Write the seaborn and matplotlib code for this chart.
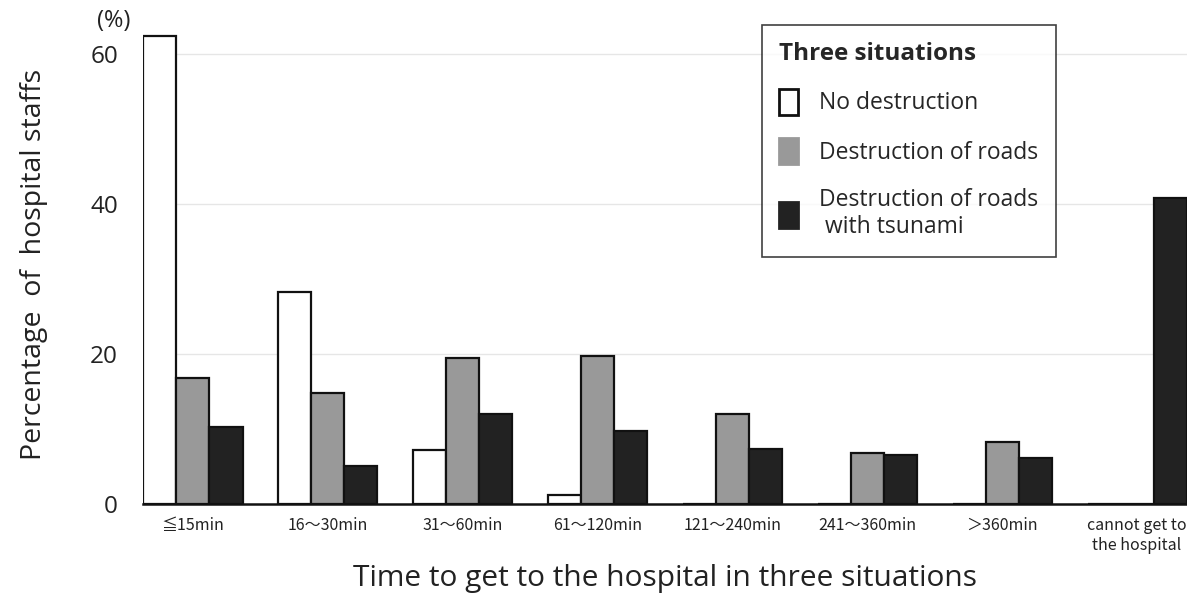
import pandas as pd
import numpy as np
import matplotlib
matplotlib.use("Agg")
import matplotlib.pyplot as plt
from matplotlib.patches import Patch
import seaborn as sns

# data
categories = ["≦15min", "16～30min", "31～60min", "61～120min",
              "121～240min", "241～360min", "＞360min",
              "cannot get to\nthe hospital"]
situations = ["No destruction", "Destruction of roads",
              "Destruction of roads\n with tsunami"]
no_destruction = [62.4, 28.3, 7.2, 1.2, 0, 0, 0, 0]
roads = [16.8, 14.8, 19.5, 19.8, 12.0, 6.8, 8.3, 0]
roads_tsunami = [10.3, 5.1, 12.0, 9.7, 7.3, 6.5, 6.2, 40.8]
yticks = [0, 20, 40, 60]

colors = ["#ffffff", "#999999", "#222222"]

df = pd.DataFrame({
    "time": categories * 3,
    "situation": [situations[0]] * 8 + [situations[1]] * 8 + [situations[2]] * 8,
    "pct": no_destruction + roads + roads_tsunami,
})

sns.set_style("white")
plt.rcParams["font.family"] = ["Open Sans", "DejaVu Sans"]

fig = plt.figure(figsize=(11.87, 5.96), dpi=100)
ax = fig.add_axes([0.1205, 0.154, 0.8795, 0.806])

sns.barplot(data=df, x="time", y="pct", hue="situation", order=categories,
            hue_order=situations, palette=colors, width=0.735,
            edgecolor="#111111", linewidth=1.6, legend=False, ax=ax, zorder=3)

ax.set_xlim(-0.37, 7.37)
ax.set_ylim(0, 64)
ax.set_yticks(yticks)
ax.yaxis.grid(True, color="#e6e6e6", lw=1, zorder=0)
ax.set_axisbelow(True)
for s in ["left", "right", "top"]:
    ax.spines[s].set_visible(False)
ax.spines["bottom"].set_color("#111111")
ax.spines["bottom"].set_linewidth(1.8)
ax.tick_params(axis="y", length=0, pad=18, labelsize=17.5, labelcolor="#222222")
ax.tick_params(axis="x", length=0, pad=9)
for lab in ax.get_xticklabels():
    lab.set_fontfamily(["Noto Sans CJK JP", "DejaVu Sans"])
    lab.set_fontsize(11.5)
    lab.set_color("#222222")
    lab.set_linespacing(1.25)

ax.set_xlabel("Time to get to the hospital in three situations",
              fontsize=21.5, color="#222222", labelpad=7)
ax.set_ylabel("Percentage  of  hospital staffs", fontsize=20.5,
              color="#222222", labelpad=30)
ax.text(-0.012, 1.005, "(%)", transform=ax.transAxes, ha="right", va="center",
        fontsize=17, color="#222222")

handles = [Patch(facecolor=c, edgecolor=("#111111" if i == 0 else c), lw=2)
           for i, c in enumerate(colors)]
leg = ax.legend(handles, situations, title="Three situations",
                loc="upper left", bbox_to_anchor=(0.593, 0.998),
                borderaxespad=0, frameon=True, fancybox=False,
                edgecolor="#111111", fontsize=16.5,
                title_fontproperties={"size": 17.5, "weight": "bold"},
                handlelength=0.8, handleheight=1.35, labelspacing=1.0,
                handletextpad=0.95, borderpad=0.75, alignment="left")
leg.get_frame().set_linewidth(1.2)

fig.savefig("out.png", dpi=100)
